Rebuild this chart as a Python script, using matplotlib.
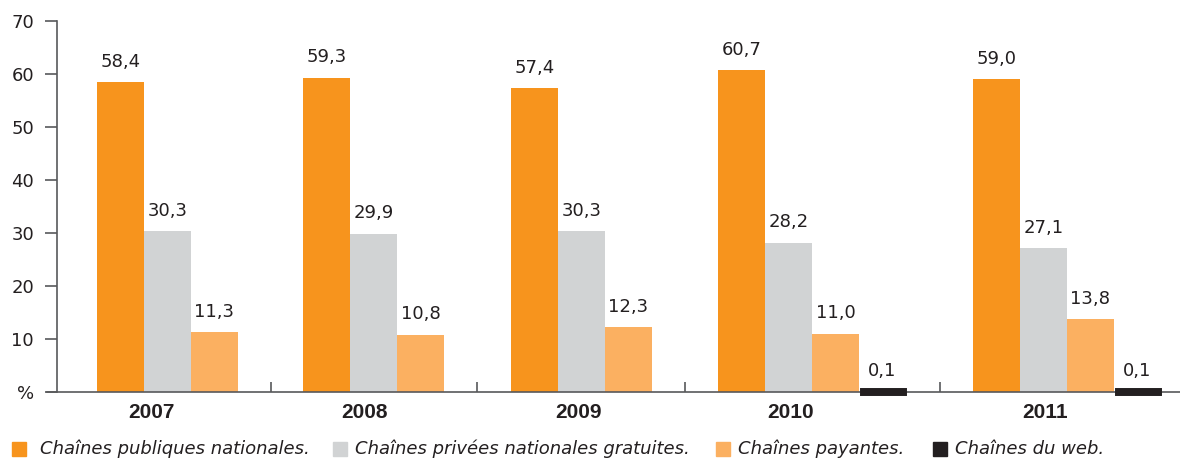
import numpy as np
import matplotlib.pyplot as plt
from matplotlib.patches import Rectangle

# données (en %)
annees = ['2007', '2008', '2009', '2010', '2011']
publiques = [58.4, 59.3, 57.4, 60.7, 59.0]
privees = [30.3, 29.9, 30.3, 28.2, 27.1]
payantes = [11.3, 10.8, 12.3, 11.0, 13.8]
web = [None, None, None, 0.1, 0.1]

series = [publiques, privees, payantes, web]
noms = ['Chaînes publiques nationales.', 'Chaînes privées nationales gratuites.',
        'Chaînes payantes.', 'Chaînes du web.']
couleurs = ['#F7941D', '#D1D3D4', '#FBB061', '#231F20']
texte = '#231F20'
gris_axe = '#58595B'

# mise en page horizontale (en pixels depuis l'axe vertical)
debut_groupe = [40, 246, 454, 661, 916]
separateurs = [214, 420, 628, 883]
pos_annee = [94, 308, 521, 734, 988]
largeur = 47

fig = plt.figure(figsize=(11.8, 4.61), dpi=100)
ax = fig.add_axes([47/1180, 69/461, 1 - 47/1180, 371/461])
ax.set_xlim(-10, 1123)
ax.set_ylim(0, 70)

for i, serie in enumerate(series):
    for g, v in enumerate(serie):
        if v is None:
            continue
        x = debut_groupe[g] + i*largeur
        if i == 3:
            # barre quasi nulle : trait épais pour qu'elle reste visible
            ax.bar(x + 3.5, v, width=largeur - 7, align='edge', color=couleurs[i],
                   edgecolor=couleurs[i], linewidth=5, joinstyle='miter',
                   clip_on=False, zorder=3)
        else:
            ax.bar(x, v, width=largeur, align='edge', color=couleurs[i],
                   linewidth=0, zorder=2)
        ax.annotate(f'{v:.1f}'.replace('.', ','), (x + largeur/2, v),
                    xytext=(0, 11), textcoords='offset points',
                    ha='center', va='baseline', fontsize=13, color=texte)

# axes
for s in ['top', 'right']:
    ax.spines[s].set_visible(False)
ax.spines['left'].set_position(('data', 0))
for s in ['left', 'bottom']:
    ax.spines[s].set_color(gris_axe)
    ax.spines[s].set_linewidth(1.2)

ax.set_yticks(np.arange(0, 71, 10))
ax.set_yticklabels(['%'] + [str(v) for v in range(10, 71, 10)])
ax.tick_params(axis='y', direction='out', length=8.6, width=1.2, color=gris_axe,
               pad=8, labelsize=13, labelcolor=texte)

ax.set_xticks(separateurs)
ax.set_xticklabels([])
ax.tick_params(axis='x', which='major', direction='in', length=7.2, width=1.2,
               color=gris_axe)
ax.set_xticks(pos_annee, minor=True)
ax.set_xticklabels(annees, minor=True, fontsize=15, fontweight='bold',
                   family='Liberation Sans', color=texte)
ax.tick_params(axis='x', which='minor', length=0, pad=8)

# légende
leg_carre = [12, 333, 716, 933]
leg_texte = [40, 355, 738, 955]
for i in range(4):
    fig.patches.append(Rectangle((leg_carre[i]/1180, (461-456)/461), 14/1180, 14/461,
                                 transform=fig.transFigure, color=couleurs[i]))
    fig.text(leg_texte[i]/1180, (461-449)/461, noms[i], fontsize=13,
             style='italic', color=texte, va='center', ha='left')

fig.savefig('out.png', dpi=100)
